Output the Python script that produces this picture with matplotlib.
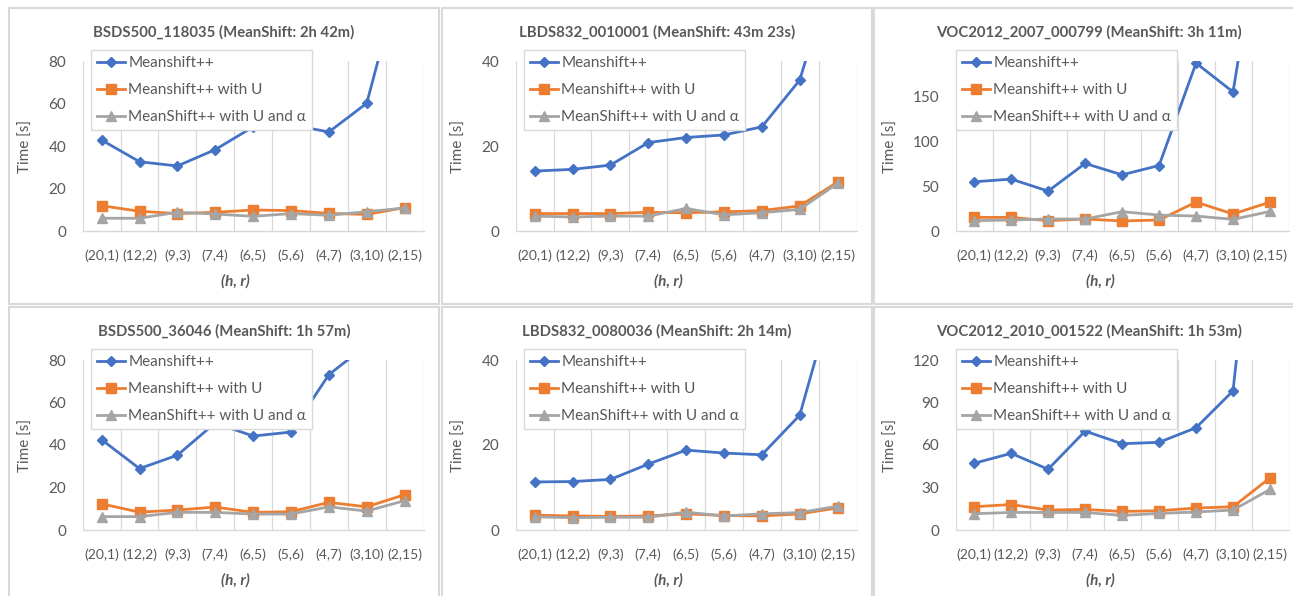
import numpy as np
import matplotlib
matplotlib.use("Agg")
import matplotlib.pyplot as plt
from matplotlib.patches import Rectangle

plt.rcParams["font.family"] = ["Lato", "DejaVu Sans"]

# ── data ────────────────────────────────────────────────────────────────
categories = ["(20,1)", "(12,2)", "(9,3)", "(7,4)", "(6,5)",
              "(5,6)", "(4,7)", "(3,10)", "(2,15)"]
series_names = ["Meanshift++", "Meanshift++ with U", "MeanShift++ with U and α"]

titles = [
    "BSDS500_118035 (MeanShift: 2h 42m)",
    "LBDS832_0010001 (MeanShift: 43m 23s)",
    "VOC2012_2007_000799 (MeanShift: 3h 11m)",
    "BSDS500_36046 (MeanShift: 1h 57m)",
    "LBDS832_0080036 (MeanShift: 2h 14m)",
    "VOC2012_2010_001522 (MeanShift: 1h 53m)",
]

bsds_118035_msp = [42.8, 32.6, 30.6, 38.3, 49.0, 50.0, 46.6, 60.1, 127.0]
bsds_118035_u = [11.9, 9.3, 8.2, 8.8, 9.9, 9.6, 8.3, 7.8, 11.0]
bsds_118035_ua = [6.0, 6.0, 8.8, 8.0, 6.9, 8.2, 7.4, 9.1, 10.8]

lbds_0010001_msp = [14.1, 14.5, 15.5, 20.8, 22.0, 22.6, 24.5, 35.5, 65.0]
lbds_0010001_u = [4.1, 4.1, 4.1, 4.4, 4.3, 4.5, 4.8, 5.9, 11.5]
lbds_0010001_ua = [3.5, 3.3, 3.5, 3.5, 5.3, 3.8, 4.3, 5.1, 11.2]

voc_000799_msp = [55.0, 58.0, 44.6, 75.5, 62.8, 73.2, 187.7, 155.4, 410.0]
voc_000799_u = [15.2, 15.2, 11.5, 13.4, 11.2, 12.3, 32.3, 19.0, 32.3]
voc_000799_ua = [11.5, 12.3, 13.4, 13.4, 21.6, 17.8, 16.7, 13.0, 21.9]

bsds_36046_msp = [42.5, 28.9, 35.2, 50.4, 44.2, 46.1, 73.1, 87.0, 150.0]
bsds_36046_u = [12.3, 8.4, 9.4, 10.8, 8.3, 8.6, 13.0, 10.9, 16.6]
bsds_36046_ua = [6.3, 6.3, 8.3, 8.3, 7.5, 7.5, 10.9, 8.9, 13.8]

lbds_0080036_msp = [11.3, 11.4, 11.9, 15.5, 18.8, 18.1, 17.7, 27.0, 58.6]
lbds_0080036_u = [3.5, 3.3, 3.2, 3.3, 3.8, 3.4, 3.3, 3.8, 5.2]
lbds_0080036_ua = [3.1, 2.9, 3.0, 3.0, 4.2, 3.3, 3.8, 4.1, 5.6]

voc_001522_msp = [47.1, 54.1, 42.9, 69.8, 60.9, 61.9, 72.2, 98.2, 340.0]
voc_001522_u = [16.4, 18.0, 14.1, 14.5, 13.1, 13.6, 15.5, 16.4, 36.8]
voc_001522_ua = [11.5, 12.4, 12.4, 12.4, 10.3, 11.7, 12.7, 14.1, 28.6]

panel_data = [
    (bsds_118035_msp, bsds_118035_u, bsds_118035_ua),
    (lbds_0010001_msp, lbds_0010001_u, lbds_0010001_ua),
    (voc_000799_msp, voc_000799_u, voc_000799_ua),
    (bsds_36046_msp, bsds_36046_u, bsds_36046_ua),
    (lbds_0080036_msp, lbds_0080036_u, lbds_0080036_ua),
    (voc_001522_msp, voc_001522_u, voc_001522_ua),
]
y_max = [80, 40, 190, 80, 40, 120]
y_step = [20, 20, 50, 20, 20, 30]

# ── style ───────────────────────────────────────────────────────────────
W, H = 1293, 596
TXT = "#595959"
GRID = "#D9D9D9"
COLORS = ["#4472C4", "#ED7D31", "#A5A5A5"]
MARKERS = [("D", 5.5), ("s", 6.5), ("^", 6.5)]
FS = 11

fig = plt.figure(figsize=(W / 100, H / 100), dpi=100)
fig.patch.set_facecolor("white")


def fx(px):
    return px / W


def fy(py):
    return 1 - py / H


# panel origins (left, top) in pixels
panel_x = [9, 442, 874]
panel_y = [8, 307]
panel_w = [430, 430, 430]
panel_h = [296, 300]

for i in range(6):
    r, c = divmod(i, 3)
    x0, y0 = panel_x[c], panel_y[r]

    # chart frame
    fig.add_artist(Rectangle((fx(x0), fy(y0 + panel_h[r])), fx(panel_w[c]),
                             panel_h[r] / H, transform=fig.transFigure,
                             facecolor="none", edgecolor=GRID, lw=1.5))

    left = x0 + (81.7 if c == 2 else 73.7)
    right = x0 + 414.5
    top = y0 + 53
    bot = y0 + 223
    ax = fig.add_axes([fx(left), fy(bot), fx(right - left), (bot - top) / H])

    xs = np.arange(len(categories))
    for k, vals in enumerate(panel_data[i]):
        m, ms = MARKERS[k]
        ax.plot(xs, vals, color=COLORS[k], lw=2.0, marker=m, ms=ms,
                label=series_names[k], zorder=3 + k)

    ax.set_xlim(-0.5, len(categories) - 0.5)
    ax.set_ylim(0, y_max[i])
    ax.set_yticks(np.arange(0, y_max[i] + 1, y_step[i]))
    ax.set_xticks(xs)
    ax.set_xticklabels(categories)
    ax.tick_params(axis="both", length=0, colors=TXT, labelsize=FS)
    ax.tick_params(axis="x", pad=13, labelsize=10)
    ax.tick_params(axis="y", pad=12)

    for s in ["top", "right", "left"]:
        ax.spines[s].set_visible(False)
    ax.spines["bottom"].set_color(GRID)
    ax.spines["bottom"].set_linewidth(1.0)
    for gx in np.arange(-0.5, len(categories), 1.0):
        ax.axvline(gx, color=GRID, lw=0.9, zorder=1)

    ax.set_ylabel("Time [s]", color=TXT, fontsize=FS)
    ax.yaxis.set_label_coords((x0 + 24 - left) / (right - left), 0.5)

    fig.text(fx(x0 + 215), fy(y0 + 24), titles[i], ha="center", va="center",
             fontsize=10.7, fontweight="bold", color=TXT)
    fig.text(fx(x0 + 226), fy(y0 + 273), "(h, r)", ha="center", va="center",
             fontsize=FS, fontweight="bold", fontstyle="italic", color=TXT)

    leg = ax.legend(loc="upper left",
                    bbox_to_anchor=(fx(x0 + 82), fy(y0 + 42)),
                    bbox_transform=fig.transFigure,
                    fontsize=FS, frameon=True, fancybox=False,
                    framealpha=1, edgecolor=GRID, borderpad=0.4,
                    labelspacing=0.85, handlelength=1.85, handletextpad=0.2,
                    borderaxespad=0)
    leg.get_frame().set_linewidth(1.0)
    for t in leg.get_texts():
        t.set_color(TXT)

fig.savefig("out.png", dpi=100, facecolor="white")
